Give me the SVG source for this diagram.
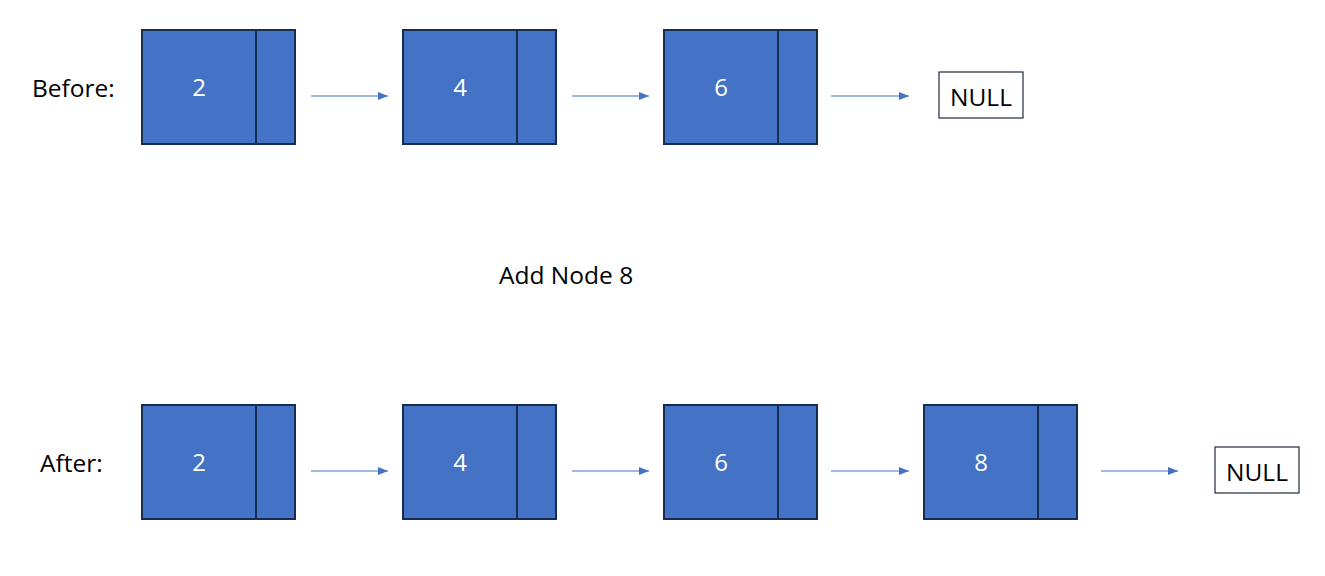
<svg xmlns="http://www.w3.org/2000/svg" width="1325" height="576" viewBox="0 0 1325 576">
<style>
.box{fill:#4472C4;stroke:#172C51;stroke-width:2}
.div{stroke:#172C51;stroke-width:2}
.num{font-family:"Open Sans","Noto Sans",sans-serif;font-size:24px;fill:#ffffff;text-anchor:middle}
.lbl{font-family:"Open Sans","Noto Sans",sans-serif;font-size:24.5px;fill:#000000}
.null{fill:#ffffff;stroke:#1F2A3C;stroke-width:1.2}
.nulltxt{font-family:"Open Sans","Noto Sans",sans-serif;font-size:24.5px;fill:#000000;text-anchor:middle}
.arr{stroke:#4472C4;stroke-width:1.2;fill:none;marker-end:url(#ah)}
</style>
<defs>
<marker id="ah" markerWidth="10" markerHeight="8" refX="10" refY="4" orient="auto" markerUnits="userSpaceOnUse">
<path d="M0,0 L10,4 L0,8 Z" fill="#4472C4"/>
</marker>
</defs>
<rect width="1325" height="576" fill="#ffffff"/>
<text class="lbl" x="32" y="97">Before:</text>
<text class="lbl" x="40" y="472">After:</text>
<text class="lbl" x="499" y="284">Add Node 8</text>

<g id="b2"><rect class="box" x="142" y="30" width="153" height="114"/><line class="div" x1="256" y1="30" x2="256" y2="144"/><text class="num" x="199" y="96">2</text></g>
<g id="b4"><rect class="box" x="403" y="30" width="153" height="114"/><line class="div" x1="517" y1="30" x2="517" y2="144"/><text class="num" x="460" y="96">4</text></g>
<g id="b6"><rect class="box" x="664" y="30" width="153" height="114"/><line class="div" x1="778" y1="30" x2="778" y2="144"/><text class="num" x="721" y="96">6</text></g>
<g id="bnull"><rect class="null" x="939" y="72" width="84" height="46"/><text class="nulltxt" x="981" y="106">NULL</text></g>

<g id="a2"><rect class="box" x="142" y="405" width="153" height="114"/><line class="div" x1="256" y1="405" x2="256" y2="519"/><text class="num" x="199" y="471">2</text></g>
<g id="a4"><rect class="box" x="403" y="405" width="153" height="114"/><line class="div" x1="517" y1="405" x2="517" y2="519"/><text class="num" x="460" y="471">4</text></g>
<g id="a6"><rect class="box" x="664" y="405" width="153" height="114"/><line class="div" x1="778" y1="405" x2="778" y2="519"/><text class="num" x="721" y="471">6</text></g>
<g id="a8"><rect class="box" x="924" y="405" width="153" height="114"/><line class="div" x1="1038" y1="405" x2="1038" y2="519"/><text class="num" x="981" y="471">8</text></g>
<g id="anull"><rect class="null" x="1215" y="447" width="84" height="46"/><text class="nulltxt" x="1257" y="481">NULL</text></g>

<g id="connectors">
<line class="arr" x1="311" y1="96" x2="388" y2="96"/>
<line class="arr" x1="572" y1="96" x2="649" y2="96"/>
<line class="arr" x1="831" y1="96" x2="909" y2="96"/>
<line class="arr" x1="311" y1="471" x2="388" y2="471"/>
<line class="arr" x1="572" y1="471" x2="649" y2="471"/>
<line class="arr" x1="831" y1="471" x2="909" y2="471"/>
<line class="arr" x1="1101" y1="471" x2="1178" y2="471"/>
</g>
</svg>
